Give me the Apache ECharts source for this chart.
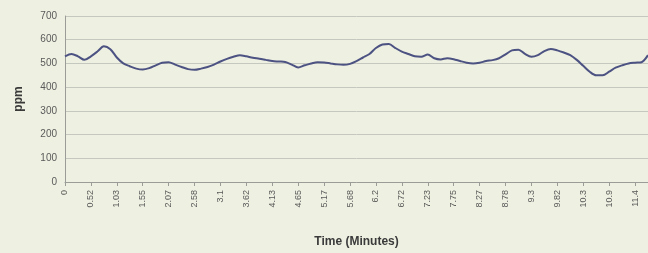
<!DOCTYPE html>
<html><head><meta charset="utf-8">
<script src="https://cdn.jsdelivr.net/npm/echarts@6/dist/echarts.min.js"></script>
<style>html,body{margin:0;padding:0;background:#eef0e1;}#c{width:648px;height:253px;}</style>
</head><body><div id="c"></div>
<script>
var tickLabels = ['0','0.52','1.03','1.55','2.07','2.58','3.1','3.62','4.13','4.65','5.17','5.68','6.2','6.72','7.23','7.75','8.27','8.78','9.3','9.82','10.3','10.9','11.4'];
var ppm = [530,540,530,515,530,550,572,560,525,500,488,478,474,480,492,503,505,495,485,476,
473,478,485,495,508,519,528,535,530,524,520,515,510,508,506,495,483,492,500,505,
504,500,496,494,498,510,525,540,565,580,582,565,550,540,530,528,538,522,517,522,
518,510,503,500,503,510,514,522,538,555,558,540,528,535,552,561,555,546,535,515,
490,465,450,450,465,482,492,500,503,505,535];
var perTick = 4;
var categories = ppm.map(function(v,i){ return i % perTick === 0 ? tickLabels[i/perTick] : ''; });
var chart = echarts.init(document.getElementById('c'));
chart.setOption({
  backgroundColor: '#eef0e1',
  animation: false,
  grid: {left: 65, right: 0, top: 16, bottom: 69},
  xAxis: {
    type: 'category', data: categories, boundaryGap: false,
    name: 'Time (Minutes)', nameLocation: 'middle', nameGap: 54,
    nameTextStyle: {fontFamily: 'Liberation Sans, Arial', fontWeight: 'bold', fontSize: 12, color: '#3a3a3a'},
    axisLine: {lineStyle: {color: '#9a9c98', width: 1}},
    axisTick: {interval: perTick - 1, length: 4, lineStyle: {color: '#9a9c98'}},
    axisLabel: {interval: perTick - 1, rotate: 90, fontSize: 9, color: '#5a5a5a', fontFamily: 'Liberation Sans, Arial', margin: 8},
    splitLine: {show: false}
  },
  yAxis: {
    type: 'value', min: 0, max: 700, interval: 100,
    name: 'ppm', nameLocation: 'middle', nameGap: 40,
    nameTextStyle: {fontFamily: 'Liberation Sans, Arial', fontWeight: 'bold', fontSize: 12, color: '#3a3a3a'},
    axisLine: {show: true, lineStyle: {color: '#9a9c98'}},
    axisTick: {show: false},
    axisLabel: {fontSize: 10, color: '#5a5a5a', fontFamily: 'Liberation Sans, Arial', margin: 8},
    splitLine: {lineStyle: {color: '#c4c8bf', width: 1}}
  },
  series: [{
    type: 'line', data: ppm, showSymbol: false, smooth: 0.3,
    lineStyle: {color: '#4c5282', width: 2}
  }]
});
</script></body></html>
